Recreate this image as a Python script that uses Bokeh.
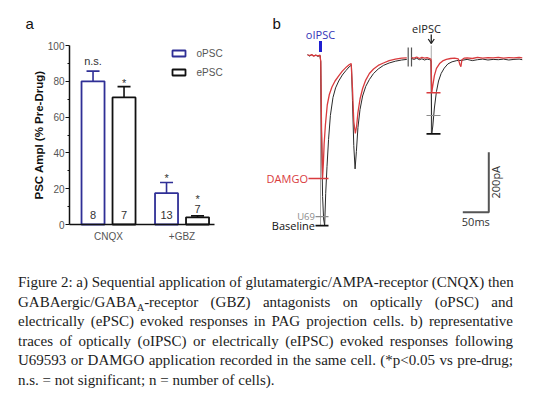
import math
from bokeh.plotting import figure
from bokeh.models import Range1d, FixedTicker, Div
from bokeh.layouts import row, column
from bokeh.embed import file_html
from bokeh.resources import INLINE
from bokeh.core.properties import value

# ---------------- data: panel a (PSC amplitude, % of pre-drug) ----------------
treatments = ["CNQX", "+GBZ"]
opsc_mean = [80.0, 17.5]
opsc_sem = [5.7, 6.0]
opsc_n = [8, 13]
opsc_sig = ["n.s.", "*"]
epsc_mean = [71.0, 4.0]
epsc_sem = [6.0, 0.8]
epsc_n = [7, 7]
epsc_sig = ["*", "*"]
y_ticks = [0, 20, 40, 60, 80, 100]
y_minor = [10, 30, 50, 70, 90]

# ---------------- data: panel b (time in ms, current in pA) ----------------
# oIPSC sweep: two light pulses (0 ms and 60 ms)
o_base_t = [-25, -21, -17, -13, -9, -5, -1, 0.5, 2, 4, 6, 8, 10, 12.5, 15.5, 19, 24, 29, 35, 42, 49, 55,
            59.5, 61.5, 64, 66.5, 69, 72, 76, 81, 87, 94, 102, 111, 121, 132, 144, 156, 166]
o_base_i = [3, -2, 2, -1, 1, -3, 0, -20, -250, -470, -545, -567, -460, -370, -280, -200, -140, -108, -85, -65, -50, -38,
            -32, -150, -300, -378, -320, -240, -180, -135, -103, -80, -60, -45, -33, -25, -19, -15, -13]
o_damgo_t = [-25, -21, -17, -13, -9, -5, -1, 0.5, 2, 4, 5.5, 7, 9.5, 13, 17, 22, 28, 35, 42, 50, 55,
             59, 61.5, 64, 67, 69.5, 72, 76, 81, 87, 94, 102, 111, 121, 132, 144, 156, 166]
o_damgo_i = [2, 0, 3, -2, 1, -1, 1, -20, -250, -407, -360, -295, -230, -165, -130, -105, -85, -68, -52, -38, -31,
             -27, -110, -220, -260, -235, -190, -145, -110, -82, -60, -45, -33, -25, -17, -12, -9, -8]
# eIPSC sweep: electrical stimulus at 213 ms (after the break)
e_base_t = [175, 180, 185, 190, 195, 200, 205, 210, 212.5, 214, 216, 219, 223, 227, 232, 238, 245, 253, 262,
            272, 282, 292, 302, 312, 322, 332, 342, 352, 362, 372, 382, 388]
e_base_i = [-10, -13, -9, -14, -11, -15, -12, -14, -17, -261, -235, -175, -120, -85, -60, -42, -28, -21, -17,
            -16, -13, -17, -14, -12, -15, -13, -14, -12, -15, -13, -12, -14]
e_damgo_t = [175, 180, 185, 190, 195, 200, 205, 210, 212.5, 214, 216, 219, 223, 229, 235, 242, 250, 258, 265,
             268, 270, 272, 276, 282, 292, 302, 312, 322, 332, 342, 352, 362, 372, 382, 388]
e_damgo_i = [-7, -9, -5, -10, -6, -9, -7, -10, -13, -124, -100, -67, -43, -27, -18, -13, -10, -9, -11,
             -30, -37, -14, -9, -8, -10, -6, -9, -7, -8, -6, -9, -7, -8, -6, -8]
peak_labels = ["DAMGO", "U69", "Baseline"]
o_peaks = [-410, -537, -567]
e_peaks = [-124, -200, -261]
o_stim, e_stim = 0, 213
scale_pA, scale_ms = 200, 50

SANS = "Liberation Sans"
HUM = "Open Sans"
BLUE = "#2f2f96"
RED = "#d93b3e"
TOP_H = 268

# ================= panel a =================
A_W = 262
PX_Y = 1.79
PX_X = 73.5
AX_PX, AX0_PY = 69, 224          # page position of the axes origin
X0 = 0.469                       # data x at the y-axis


def ax(px):
    return X0 + (px - AX_PX) / PX_X


def ay(py):
    return (AX0_PY - py) / PX_Y


pa = figure(width=A_W, height=TOP_H, output_backend="svg", toolbar_location=None,
            x_range=Range1d(ax(0), ax(A_W)), y_range=Range1d(ay(TOP_H), ay(0)),
            min_border=0, min_border_left=0, min_border_right=0, min_border_top=0, min_border_bottom=0)
pa.outline_line_color = None
pa.grid.visible = False
pa.background_fill_color = None
pa.border_fill_color = None

OFF = 15.5 / PX_X
BW = 23 / PX_X
CAP = 6.5 / PX_X

series = [("oPSC", opsc_mean, opsc_sem, opsc_n, opsc_sig, BLUE, -1),
          ("ePSC", epsc_mean, epsc_sem, epsc_n, epsc_sig, "#111111", 1)]

for k, (name, mean, sem, ns, sig, col, sgn) in enumerate(series):
    xs = [i + 1 + sgn * OFF for i in range(len(treatments))]
    tops = [m + s for m, s in zip(mean, sem)]
    pa.vbar(x=xs, top=mean, bottom=0, width=BW, fill_color="white", line_color=col, line_width=1.8)
    pa.segment(x0=xs, y0=mean, x1=xs, y1=tops, line_color=col, line_width=1.6)
    pa.segment(x0=[x - CAP for x in xs], y0=tops, x1=[x + CAP for x in xs], y1=tops,
               line_color=col, line_width=1.6)
    n_y, s_y = [], []
    for m, t, lab in zip(mean, tops, sig):
        if m * PX_Y >= 18:
            ny = 10 / PX_Y
            anchor = t
        else:
            ny = m + 8 / PX_Y
            anchor = ny + 6.5 / PX_Y
        n_y.append(ny)
        s_y.append(anchor + (10 if lab == "n.s." else 4) / PX_Y)
    pa.text(x=xs, y=n_y, text=[str(v) for v in ns], text_align="center", text_baseline="alphabetic",
            text_font=value(SANS), text_font_size="11px", text_color="#333333")
    pa.text(x=xs, y=s_y, text=sig, text_align="center", text_baseline="alphabetic",
            text_font=value(SANS), text_font_size="11px", text_color="#333333")
    # legend entry
    pa.quad(left=[ax(172)], right=[ax(185)], top=[ay(50 + 19 * k)], bottom=[ay(56 + 19 * k)],
            fill_color="white", line_color=col, line_width=1.8)
    pa.text(x=[ax(196)], y=[ay(53 + 19 * k)], text=[name], text_align="left", text_baseline="middle",
            text_font=value(SANS), text_font_size="10px", text_color="#555555")

pa.yaxis.fixed_location = X0
pa.xaxis.fixed_location = 0
pa.yaxis.ticker = FixedTicker(ticks=y_ticks, minor_ticks=y_minor)
pa.yaxis.bounds = (0, 100)
pa.xaxis.ticker = FixedTicker(ticks=[i + 1 for i in range(len(treatments))])
pa.xaxis.major_label_overrides = {i + 1: t for i, t in enumerate(treatments)}
pa.xaxis.bounds = (X0, ax(214))
for axis in (pa.xaxis, pa.yaxis):
    axis.axis_line_color = "#111111"
    axis.axis_line_width = 1.5
    axis.major_tick_line_color = "#111111"
    axis.minor_tick_line_color = "#111111"
    axis.major_tick_in = 0
    axis.minor_tick_in = 0
    axis.major_label_text_font = SANS
    axis.major_label_text_color = "#555555"
    axis.major_label_text_font_size = "10px"
pa.yaxis.major_tick_out = 4
pa.yaxis.minor_tick_out = 2
pa.yaxis.major_label_standoff = 1
pa.xaxis.major_tick_out = 0
pa.xaxis.minor_tick_out = 0
pa.xaxis.major_label_standoff = 6

pa.text(x=[ax(38)], y=[50], text=["PSC Ampl (% Pre-Drug)"], angle=math.pi / 2,
        text_align="center", text_baseline="middle", text_font=value(SANS),
        text_font_style="bold", text_font_size="11.5px", text_color="#111111")
pa.text(x=[ax(25)], y=[ay(23)], text=["a"], text_align="left", text_baseline="alphabetic",
        text_font=value(SANS), text_font_size="15px", text_color="#111111")

# ================= panel b =================
B_W = 269
MS_PX = 50 / 26
PA_PX = 200 / 60
T0_PX, I0_PY = 320, 55


def bx(px):
    return (px - T0_PX) * MS_PX


def by(py):
    return (I0_PY - py) * PA_PX


pb = figure(width=B_W, height=TOP_H, output_backend="svg", toolbar_location=None,
            x_range=Range1d(bx(A_W), bx(A_W + B_W)), y_range=Range1d(by(TOP_H), by(0)),
            x_axis_location=None, y_axis_location=None,
            min_border=0, min_border_left=0, min_border_right=0, min_border_top=0, min_border_bottom=0)
pb.outline_line_color = None
pb.grid.visible = False
pb.background_fill_color = None
pb.border_fill_color = None

# stimulus artifacts
pb.segment(x0=[o_stim, e_stim], y0=[0, by(45)], x1=[o_stim, e_stim], y1=[o_peaks[2], e_peaks[2]],
           line_color="#a8a8a8", line_width=1)
# break marks
pb.segment(x0=[bx(407.7), bx(411)], y0=[by(47)] * 2, x1=[bx(407.7), bx(411)], y1=[by(66)] * 2,
           line_color="#555555", line_width=1.2)

# traces
pb.line(o_base_t, o_base_i, line_color="#2a2a2a", line_width=1.0)
pb.line(e_base_t, e_base_i, line_color="#2a2a2a", line_width=1.0)
pb.line(o_damgo_t, o_damgo_i, line_color=RED, line_width=1.3)
pb.line(e_damgo_t, e_damgo_i, line_color=RED, line_width=1.3)

marker_cols = [RED, "#8c8c8c", "#111111"]
marker_w = [1.6, 1.2, 1.8]
label_end = [bx(308), bx(315), bx(315)]
label_size = ["11px", "9.5px", "11px"]
for lab, op, ep, col, w, le, fs in zip(peak_labels, o_peaks, e_peaks, marker_cols, marker_w, label_end, label_size):
    pb.segment(x0=[le, bx(426)], y0=[op, ep], x1=[bx(328), bx(440)], y1=[op, ep], line_color=col, line_width=w)
    pb.text(x=[le - 1], y=[op], text=[lab], text_align="right", text_baseline="middle",
            text_font=value(HUM), text_font_size=fs, text_color=col)

# stimulus labels
pb.text(x=[o_stim], y=[by(34)], text=["oIPSC"], text_align="center", text_baseline="middle",
        text_font=value(HUM), text_font_size="11px", text_color="#3434b8")
pb.segment(x0=[o_stim], y0=[by(40.5)], x1=[o_stim], y1=[by(51.5)], line_color="#1f1fd0", line_width=3)
pb.text(x=[bx(426)], y=[by(27.5)], text=["eIPSC"], text_align="center", text_baseline="middle",
        text_font=value(HUM), text_font_size="11px", text_color="#222222")
pb.segment(x0=[e_stim], y0=[by(34)], x1=[e_stim], y1=[by(43)], line_color="#222222", line_width=1.3)
pb.line([e_stim - 3 * MS_PX, e_stim, e_stim + 3 * MS_PX], [by(38.5), by(43), by(38.5)],
        line_color="#222222", line_width=1.3)

# scale bar
sb_t, sb_i = bx(488.3), by(211.7)
pb.line([sb_t - scale_ms, sb_t, sb_t], [sb_i, sb_i, sb_i + scale_pA], line_color="#555555", line_width=2)
pb.text(x=[sb_t + 7 * MS_PX], y=[sb_i + scale_pA / 2], text=["%dpA" % scale_pA], angle=math.pi / 2,
        text_align="center", text_baseline="middle", text_font=value(HUM), text_font_size="11px",
        text_color="#333333")
pb.text(x=[sb_t - scale_ms / 2], y=[by(220.5)], text=["%dms" % scale_ms], text_align="center",
        text_baseline="middle", text_font=value(HUM), text_font_size="11px", text_color="#333333")
pb.text(x=[bx(272)], y=[by(23.3)], text=["b"], text_align="left", text_baseline="alphabetic",
        text_font=value(SANS), text_font_size="15px", text_color="#111111")

# ================= caption =================
line_style = "text-align:justify;text-align-last:justify;white-space:nowrap;"
lines = [
    "Figure 2: a) Sequential application of glutamatergic/AMPA-receptor (CNQX) then",
    "GABAergic/GABA<sub style='font-size:10px;line-height:0'>A</sub>-receptor (GBZ) antagonists on optically (oPSC) and",
    "electrically (ePSC) evoked responses in PAG projection cells. b) representative",
    "traces of optically (oIPSC) or electrically (eIPSC) evoked responses following",
    "U69593 or DAMGO application recorded in the same cell. (*p&lt;0.05 vs pre-drug;",
]
html = "<div style=\"font-family:'Liberation Serif',serif;font-size:15px;line-height:19.5px;color:#1c1c1c;" \
       "width:495px;margin-left:13px;\">"
for ln in lines:
    html += "<div style='%s'>%s</div>" % (line_style, ln)
html += "<div style='white-space:nowrap'>n.s. = not significant; n = number of cells).</div></div>"
cap = Div(text=html, width=A_W + B_W, height=118)

layout = column(row(pa, pb), cap)
open("out.html", "w").write(file_html(layout, INLINE))
